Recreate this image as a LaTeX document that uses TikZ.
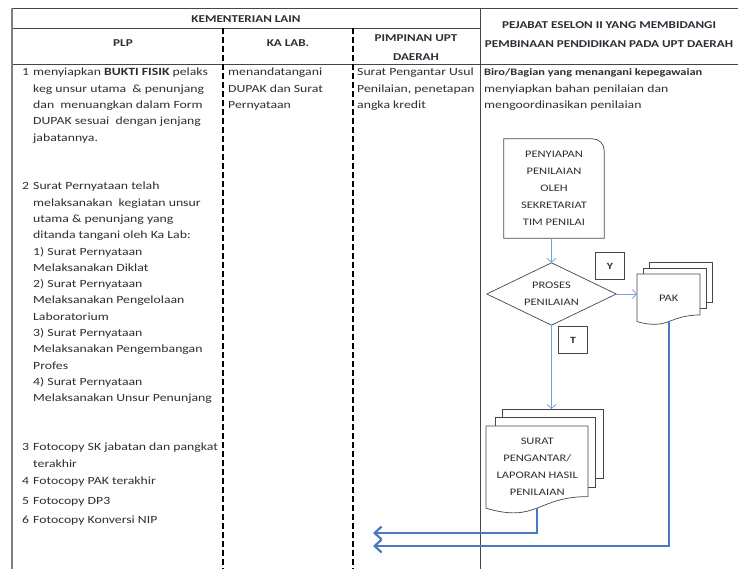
\documentclass[tikz,border=0pt]{standalone}
\usepackage{fontspec}
\setmainfont[FakeStretch=1.25]{Carlito}
\usetikzlibrary{arrows.meta, calc}

\definecolor{ink}{RGB}{45,45,55}
\definecolor{rule}{RGB}{70,70,70}
\definecolor{flowblue}{RGB}{115,160,215}
\definecolor{retblue}{RGB}{72,122,192}

\tikzset{
  bodytext/.style={anchor=north west, align=left, inner sep=0pt, text=ink,
    font=\fontsize{11}{16.4}\selectfont},
  numtext/.style={anchor=base west, inner sep=0pt, text=ink,
    font=\fontsize{11}{16.4}\selectfont},
  headtext/.style={align=center, inner sep=0pt, text=ink,
    font=\fontsize{10.5}{19}\selectfont\bfseries},
  flowtext/.style={align=center, inner sep=0pt, text=ink,
    font=\fontsize{10}{17}\selectfont},
  tagbox/.style={draw=rule, fill=white, minimum width=29pt, minimum height=27pt,
    inner sep=0pt, text=ink, font=\fontsize{9.5}{11}\selectfont\bfseries},
  flow/.style={draw=flowblue, line width=0.8pt, -{Straight Barb[length=4pt,width=9pt]}},
  retline/.style={draw=retblue, line width=2.2pt, -{Straight Barb[length=7pt,width=13pt]}},
  shapeline/.style={draw=rule, line width=0.7pt},
  docfill/.style={draw=rule, line width=0.7pt, fill=white},
  lanedash/.style={black, line width=1.2pt, dash pattern=on 6pt off 3pt},
}

\begin{document}
\begin{tikzpicture}[x=1pt, y=-1pt]
  \useasboundingbox (0,0) rectangle (738,569);
  % Table frame
  \draw[rule, line width=0.7pt] (12,8.5) -- (738,8.5);
  \draw[rule, line width=0.7pt] (12,28) -- (480,28);
  \draw[rule, line width=0.7pt] (12,64) -- (738,64);
  \draw[gray, line width=1.6pt] (12,8) -- (12,569);
  \draw[rule, line width=0.7pt] (480,8) -- (480,569);
  \draw[lanedash] (223,28) -- (223,569);
  \draw[lanedash] (353,28) -- (353,569);
  % Header
  \node[headtext] (kem) at (246,19) {KEMENTERIAN LAIN};
  \node[headtext] (plp) at (123,43) {PLP};
  \node[headtext] (kalab) at (288,43) {KA LAB.};
  \node[headtext] (pimp) at (416,48) {PIMPINAN UPT\\DAERAH};
  \node[headtext] (pejabat) at (609,35) {PEJABAT ESELON II YANG MEMBIDANGI\\PEMBINAAN PENDIDIKAN PADA UPT DAERAH};
  % PLP column
  \node[numtext] (n1) at (22,75.6) {1};
  \node[bodytext] (t1) at (33,64.1) {\strut menyiapkan \textbf{BUKTI FISIK} pelaks\\keg unsur utama \ \& penunjang\\dan \ menuangkan dalam Form\\DUPAK sesuai \ dengan jenjang\\jabatannya.};
  \node[numtext] (n2) at (22,189.6) {2};
  \node[bodytext, font=\fontsize{11}{16.3}\selectfont] (t2) at (33,178.2) {\strut Surat Pernyataan telah\\melaksanakan \ kegiatan unsur\\utama \& penunjang yang\\ditanda tangani oleh Ka Lab:\\1) Surat Pernyataan\\Melaksanakan Diklat\\2) Surat Pernyataan\\Melaksanakan Pengelolaan\\Laboratorium\\3) Surat Pernyataan\\Melaksanakan Pengembangan\\Profes\\4) Surat Pernyataan\\Melaksanakan Unsur Penunjang};
  \node[numtext] (n3) at (22,450.6) {3};
  \node[bodytext] (t3) at (33,439.1) {\strut Fotocopy SK jabatan dan pangkat\\terakhir};
  \node[numtext] (n4) at (22,484.6) {4};
  \node[numtext] (t4) at (33,484.6) {Fotocopy PAK terakhir};
  \node[numtext] (n5) at (22,504.6) {5};
  \node[numtext] (t5) at (33,504.6) {Fotocopy DP3};
  \node[numtext] (n6) at (22,523.6) {6};
  \node[numtext] (t6) at (33,523.6) {Fotocopy Konversi NIP};
  % KA LAB. and PIMPINAN columns
  \node[bodytext] (ttd) at (228,64.1) {\strut menandatangani\\DUPAK dan Surat\\Pernyataan};
  \node[bodytext] (usul) at (357,64.1) {\strut Surat Pengantar Usul\\Penilaian, penetapan\\angka kredit};
  % Eselon II column
  \node[bodytext] (biro) at (484,64.1) {\strut{\fontsize{9.9}{16.4}\selectfont\bfseries Biro/Bagian yang menangani kepegawaian}\\menyiapkan bahan penilaian dan\\mengoordinasikan penilaian};
  % Flowchart boxes
  \node[flowtext, minimum width=100pt, minimum height=99pt] (siap) at (554,188.5) {PENYIAPAN\\PENILAIAN\\OLEH\\SEKRETARIAT\\TIM PENILAI};
  \draw[shapeline] (siap.south west) -- (siap.north west) -- ([xshift=-12pt]siap.north east)
    .. controls ([xshift=-5pt]siap.north east) and ([yshift=-5pt]siap.north east) .. ([yshift=-12pt]siap.north east)
    -- (siap.south east) -- cycle;
  \node[flowtext, minimum width=129pt, minimum height=62pt] (proses) at (551.5,294) {PROSES\\PENILAIAN};
  \draw[shapeline] (proses.north) -- (proses.east) -- (proses.south) -- (proses.west) -- cycle;
  % PAK (stack of pages)
  \filldraw[docfill] (649,262) rectangle (712,302);
  \filldraw[docfill] (643,268) rectangle (706,308);
  \filldraw[docfill] (637,274) -- (700,274) -- (700,315)
    .. controls (668.5,315) and (668.5,330.5) .. (637,321.6) -- cycle;
  \node[flowtext, minimum width=63pt, minimum height=47.5pt, anchor=north west] (pak) at (637,274) {PAK};
  % Surat pengantar (stack of pages)
  \filldraw[docfill] (502,409) rectangle (603,478);
  \filldraw[docfill] (495,417) rectangle (595,487);
  \filldraw[docfill] (486,426) -- (588,426) -- (588,496.6)
    .. controls (537,496.6) and (537,523.4) .. (486,508.2) -- cycle;
  \node[flowtext, minimum width=102pt, minimum height=82pt, anchor=north west] (surat) at (486,426) {SURAT\\PENGANTAR/\\LAPORAN HASIL\\PENILAIAN};
  \coordinate (surattop) at (553,409);
  % Decision tags
  \node[tagbox] (ya) at (610,266) {Y};
  \node[tagbox] (tidak) at (573,340) {T};
  % Connectors
  \draw[flow] (siap.south -| proses.north) -- (proses.north);
  \draw[flow] (proses.east) -- (proses.east -| pak.west);
  \draw[flow] (proses.south) -- (proses.south |- surattop);
  \coordinate (pakend) at (373,546);
  \coordinate (suratend) at (373,533);
  \draw[retline] (pak.south) |- (pakend);
  \draw[retline] (surat.south) |- (suratend);
\end{tikzpicture}
\end{document}
